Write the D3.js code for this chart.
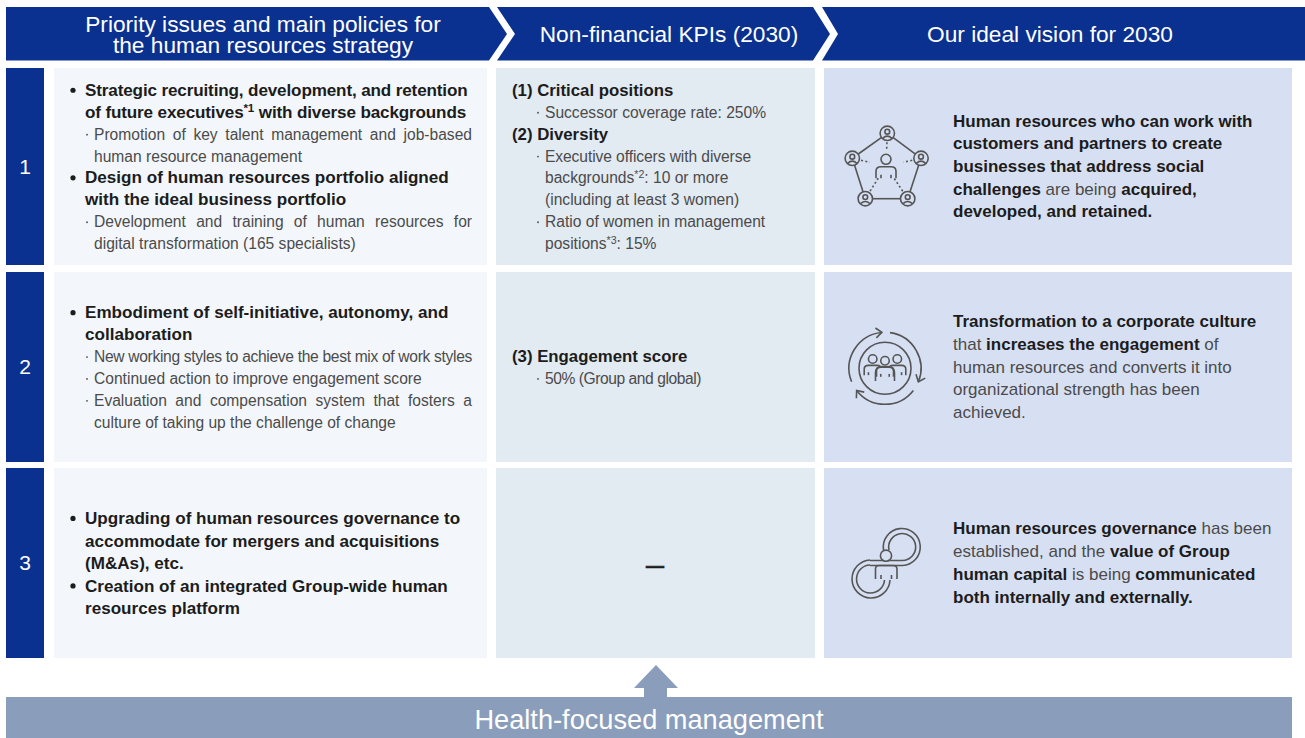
<!DOCTYPE html>
<html>
<head>
<meta charset="utf-8">
<title>Human resources strategy</title>
<script src="https://d3js.org/d3.v7.min.js"></script>
<style>
    body { margin: 0; background: #fff; }
    text { font-family: "Liberation Sans", Arial, sans-serif; }
</style>
</head>
<body>
<div id="chart"></div>
<script>
// content. line prefixes: "•" bullet, "·" sub item, ">" bullet continued, "~" sub continued, "#" heading
// ** toggles bold, ^[x] is a superscript, trailing = fits the line to the column edge (=467 to that x)
var headers = [
    ['Priority issues and main policies for', 'the human resources strategy'],
    ['Non-financial KPIs (2030)'],
    ['Our ideal vision for 2030']
];
var rowNumbers = ['1', '2', '3'];
var policies = [
    ['•**Strategic recruiting, development, and retention**=467',
     '>**of future executives^[*1] with diverse backgrounds**=465',
     '·Promotion of key talent management and job-based=',
     '~human resource management',
     '•**Design of human resources portfolio aligned**',
     '>**with the ideal business portfolio**',
     '·Development and training of human resources for=',
     '~digital transformation (165 specialists)'],
    ['•**Embodiment of self-initiative, autonomy, and**',
     '>**collaboration**',
     '·New working styles to achieve the best mix of work styles=',
     '·Continued action to improve engagement score',
     '·Evaluation and compensation system that fosters a=',
     '~culture of taking up the challenge of change'],
    ['•**Upgrading of human resources governance to**',
     '>**accommodate for mergers and acquisitions**',
     '>**(M&As), etc.**',
     '•**Creation of an integrated Group-wide human**',
     '>**resources platform**']
];
var kpis = [
    ['#**(1) Critical positions**',
     '·Successor coverage rate: 250%',
     '#**(2) Diversity**',
     '·Executive officers with diverse=751',
     '~backgrounds^[*2]: 10 or more',
     '~(including at least 3 women)',
     '·Ratio of women in management',
     '~positions^[*3]: 15%'],
    ['#**(3) Engagement score**',
     '·50% (Group and global)=701'],
    []
];
var visions = [
    ['**Human resources who can work with**',
     '**customers and partners to create**',
     '**businesses that address social**',
     '**challenges** are being **acquired,**',
     '**developed, and retained.**'],
    ['**Transformation to a corporate culture**',
     'that **increases the engagement** of',
     'human resources and converts it into',
     'organizational strength has been',
     'achieved.'],
    ['**Human resources governance** has been',
     'established, and the **value of Group**',
     '**human capital** is being **communicated**',
     '**both internally and externally.**']
];
var emptyMark = '—';
var footerLabel = 'Health-focused management';

var width = 1305, height = 738;
var navy = '#0a3190', steel = '#8a9dbb', iconInk = '#555555';
var boldInk = '#1c1c1c', lightInk = '#4b4b4b';

var svg = d3.select('#chart').append('svg')
    .attr('width', width).attr('height', height)
    .style('display', 'block');

var rows = [{top: 68, bottom: 265}, {top: 272, bottom: 462}, {top: 468, bottom: 658}];
var columns = [
    {left: 54, right: 487, fill: '#f3f7fb'},
    {left: 496, right: 815, fill: '#e2eaf2'},
    {left: 824, right: 1292, fill: '#d7e0f2'}
];

// HEADERS -------------------------------------------------------------------
var headTop = 7, headBottom = 60.5, headMid = 34;
var chevrons = [
    {points: [[6, headTop], [489, headTop], [507, headMid], [489, headBottom], [6, headBottom]], cx: 263},
    {points: [[497, headTop], [813, headTop], [830, headMid], [813, headBottom], [497, headBottom], [515, headMid]], cx: 669},
    {points: [[822, headTop], [1305, headTop], [1305, headBottom], [822, headBottom], [838, headMid]], cx: 1050}
];
var line = d3.line();
svg.selectAll('.chevron').data(chevrons).join('path')
    .attr('class', 'chevron')
    .attr('d', function(d) { return line(d.points) + 'Z'; })
    .attr('fill', navy);

headers.forEach(function(lines, i) {
    var head = svg.append('text')
        .attr('y', lines.length > 1 ? 31.5 : 42)
        .attr('text-anchor', 'middle')
        .attr('fill', '#fff')
        .attr('font-size', 22.7);
    lines.forEach(function(d, j) {
        head.append('tspan')
            .attr('x', chevrons[i].cx)
            .attr('dy', j ? 21 : 0)
            .text(d);
    });
});

// ROWS ----------------------------------------------------------------------
rows.forEach(function(r, i) {
    svg.append('rect').attr('x', 6).attr('y', r.top)
        .attr('width', 38).attr('height', r.bottom - r.top).attr('fill', navy);
    svg.append('text').attr('x', 25).attr('y', (r.top + r.bottom) / 2 + 7)
        .attr('text-anchor', 'middle').attr('fill', '#fff').attr('font-size', 21)
        .text(rowNumbers[i]);
    columns.forEach(function(c) {
        svg.append('rect').attr('x', c.left).attr('y', r.top)
            .attr('width', c.right - c.left).attr('height', r.bottom - r.top)
            .attr('fill', c.fill);
    });
});

// split on ** and ^[..] and put the pieces in as tspans
function addRuns(sel, str, size, boldSize) {
    var bold = false, raised = false;
    str.split(/(\*\*|\^\[[^\]]*\])/).forEach(function(part) {
        if (part === '') return;
        if (part === '**') { bold = !bold; return; }
        var sup = part.slice(0, 2) === '^[';
        var own = bold ? boldSize : size;
        var t = sel.append('tspan')
            .attr('font-weight', bold ? 700 : 400)
            .attr('fill', bold ? boldInk : lightInk)
            .attr('font-size', sup ? own * 0.68 : own)
            .text(sup ? part.slice(2, -1) : part);
        if (sup) {
            t.attr('dy', -own * 0.36);
            raised = true;
        } else if (raised) {
            t.attr('dy', own * 0.36);
            raised = false;
        }
    });
}

function drawBlock(lines, rowIndex, opts) {
    if (!lines.length) return;
    var r = rows[rowIndex];
    var cy = (r.top + r.bottom) / 2;
    var span = (lines.length - 1) * opts.pitch;
    var y = d3.scaleLinear().domain([0, Math.max(lines.length - 1, 1)])
        .range([cy - span / 2, cy + span / 2]);

    lines.forEach(function(raw, i) {
        var kind = opts.plain ? '' : raw[0];
        var body = opts.plain ? raw : raw.slice(1);
        var fit = body.match(/=(\d*)$/);
        if (fit) body = body.slice(0, fit.index);
        var x = opts.textX;
        if (kind === '•' || kind === '>') x = opts.boldX;
        if (kind === '#') x = opts.headX;
        if (kind === '·' || kind === '~') x = opts.subX;
        var base = y(i) + opts.shift;

        if (kind === '•') {
            svg.append('circle').attr('cx', opts.bulletX).attr('cy', base - 5.6)
                .attr('r', 2.6).attr('fill', boldInk);
        }
        if (kind === '·') {
            svg.append('circle').attr('cx', opts.dotX).attr('cy', base - 5)
                .attr('r', 0.9).attr('fill', lightInk);
        }
        var el = svg.append('text').attr('x', x).attr('y', base);
        addRuns(el, body, opts.size, opts.boldSize);
        if (fit) {
            var edge = fit[1] ? +fit[1] : opts.edge;
            var extra = edge - x - el.node().getComputedTextLength();
            if (extra >= 0) el.attr('word-spacing', extra / (body.split(' ').length - 1));
            else el.attr('letter-spacing', extra / body.length);
        }
    });
}

policies.forEach(function(lines, i) {
    drawBlock(lines, i, {pitch: i === 2 ? 22.5 : 21.9, shift: 6, size: 15.6, boldSize: 17.1,
        bulletX: 73, boldX: 85, dotX: 87, subX: 94, edge: 472});
});
kpis.forEach(function(lines, i) {
    drawBlock(lines, i, {pitch: 21.9, shift: 6, size: 15.6, boldSize: 16.8,
        headX: 512, dotX: 538, subX: 545, edge: 800});
});
visions.forEach(function(lines, i) {
    drawBlock(lines, i, {pitch: 22.7, shift: 5.5, size: 17, boldSize: 17, plain: true, textX: 953});
});

svg.append('text').attr('x', 655).attr('y', 572)
    .attr('text-anchor', 'middle').attr('font-size', 18).attr('font-weight', 700)
    .attr('fill', boldInk).attr('stroke', boldInk).attr('stroke-width', 0.7)
    .text(emptyMark);

// ICONS ---------------------------------------------------------------------
function ink(g, w) {
    return g.attr('fill', 'none').attr('stroke', iconInk).attr('stroke-width', w || 1.6);
}

// head plus shoulders, scale s
function person(g, cx, cy, s) {
    var p = d3.path();
    p.moveTo(cx - 10 * s, cy + 19 * s);
    p.lineTo(cx - 10 * s, cy + 12 * s);
    p.quadraticCurveTo(cx - 10 * s, cy + 7.5 * s, cx - 5 * s, cy + 7.5 * s);
    p.lineTo(cx + 5 * s, cy + 7.5 * s);
    p.quadraticCurveTo(cx + 10 * s, cy + 7.5 * s, cx + 10 * s, cy + 12 * s);
    p.lineTo(cx + 10 * s, cy + 19 * s);
    g.append('path').attr('d', p.toString());
    g.append('circle').attr('cx', cx).attr('cy', cy).attr('r', 5 * s);
    g.append('line').attr('x1', cx - 5 * s).attr('x2', cx - 5 * s).attr('y1', cy + 15.5 * s).attr('y2', cy + 19 * s);
    g.append('line').attr('x1', cx + 5 * s).attr('x2', cx + 5 * s).attr('y1', cy + 15.5 * s).attr('y2', cy + 19 * s);
}

// icon 1, five people around one
var icon1 = ink(svg.append('g'));
var nodes = [[887.3, 133.3], [921, 158.3], [907.7, 198.7], [865.3, 198.7], [852.3, 158.3]];
var hub = [886, 166];
nodes.forEach(function(n, i) {
    var m = nodes[(i + 1) % nodes.length];
    var a = Math.atan2(m[1] - n[1], m[0] - n[0]);
    icon1.append('line')
        .attr('x1', n[0] + 7.4 * Math.cos(a)).attr('y1', n[1] + 7.4 * Math.sin(a))
        .attr('x2', m[0] - 7.4 * Math.cos(a)).attr('y2', m[1] - 7.4 * Math.sin(a));
    var b = Math.atan2(hub[1] - n[1], hub[0] - n[0]);
    var reach = i === 0 ? 16 : (i === 2 || i === 3 ? 26 : 18);
    icon1.append('line')
        .attr('x1', n[0] + 9 * Math.cos(b)).attr('y1', n[1] + 9 * Math.sin(b))
        .attr('x2', n[0] + reach * Math.cos(b)).attr('y2', n[1] + reach * Math.sin(b))
        .attr('stroke-dasharray', '2 2.4');
    icon1.append('circle').attr('cx', n[0]).attr('cy', n[1]).attr('r', 7.2);
    icon1.append('circle').attr('cx', n[0]).attr('cy', n[1] - 1.6).attr('r', 2.4);
    icon1.append('path').attr('d', 'M' + (n[0] - 4.6) + ',' + (n[1] + 5) + 'Q' + n[0] + ',' + (n[1] + 0.6) + ' ' + (n[0] + 4.6) + ',' + (n[1] + 5));
});
person(icon1, 886, 159.3, 1);

// icon 2, circular arrows around a team
var icon2 = ink(svg.append('g'));
var c2 = [885, 368.3];
var arc = d3.arc().innerRadius(36).outerRadius(36);
var deg = Math.PI / 180;
[[248, 355], [8, 112], [128, 232]].forEach(function(s) {
    // d3.arc angles run clockwise from 12 o'clock
    icon2.append('path')
        .attr('transform', 'translate(' + c2 + ')')
        .attr('d', arc({startAngle: s[0] * deg, endAngle: s[1] * deg}));
    var t = s[1] * deg;
    var ex = c2[0] + 36 * Math.sin(t), ey = c2[1] - 36 * Math.cos(t);
    var ux = Math.cos(t), uy = Math.sin(t);
    var head = d3.path();
    head.moveTo(ex - 6 * ux + 5 * uy, ey - 6 * uy - 5 * ux);
    head.lineTo(ex, ey);
    head.lineTo(ex - 6 * ux - 5 * uy, ey - 6 * uy + 5 * ux);
    icon2.append('path').attr('d', head.toString());
});
icon2.append('circle').attr('cx', c2[0]).attr('cy', c2[1]).attr('r', 26);
person(icon2, 872.7, 359, 0.85);
person(icon2, 897.3, 359, 0.85);
var front = ink(svg.append('g'));
front.append('path').attr('d', 'M875.5,381 V373 Q875.5,366.5 882,366.5 H888 Q894.5,366.5 894.5,373 V381')
    .attr('fill', columns[2].fill);
person(front, 885, 360.7, 0.85);

// icon 3, a person in a figure of eight
var icon3 = ink(svg.append('g'));
icon3.append('path').attr('d', 'M883.5,550 A18.5,18.5 0 1 1 902.5,565.5 H870');
icon3.append('path').attr('d', 'M889,550 A13.5,13.5 0 1 1 902.5,560.5 H870');
icon3.append('path').attr('d', 'M870,560 A19,19 0 1 0 890,580');
icon3.append('path').attr('d', 'M870,565 A14,14 0 1 0 884.5,580');
icon3.append('circle').attr('cx', 886).attr('cy', 555.7).attr('r', 5.6).attr('fill', columns[2].fill);
icon3.append('path').attr('d', 'M875.5,579 V569 Q875.5,565.5 879,565.5 H893 Q897,565.5 897,569 V579');
icon3.append('line').attr('x1', 881).attr('x2', 881).attr('y1', 575).attr('y2', 579);
icon3.append('line').attr('x1', 891.5).attr('x2', 891.5).attr('y1', 575).attr('y2', 579);

// FOOTER --------------------------------------------------------------------
svg.append('path')
    .attr('d', line([[656, 665], [678, 688], [667, 688], [667, 697], [644, 697], [644, 688], [634, 688]]) + 'Z')
    .attr('fill', steel);
svg.append('rect').attr('x', 6).attr('y', 697).attr('width', 1286).attr('height', 41).attr('fill', steel);
svg.append('text').attr('x', 649).attr('y', 729)
    .attr('text-anchor', 'middle').attr('fill', '#fff').attr('font-size', 27.2)
    .text(footerLabel);
</script>
</body>
</html>
